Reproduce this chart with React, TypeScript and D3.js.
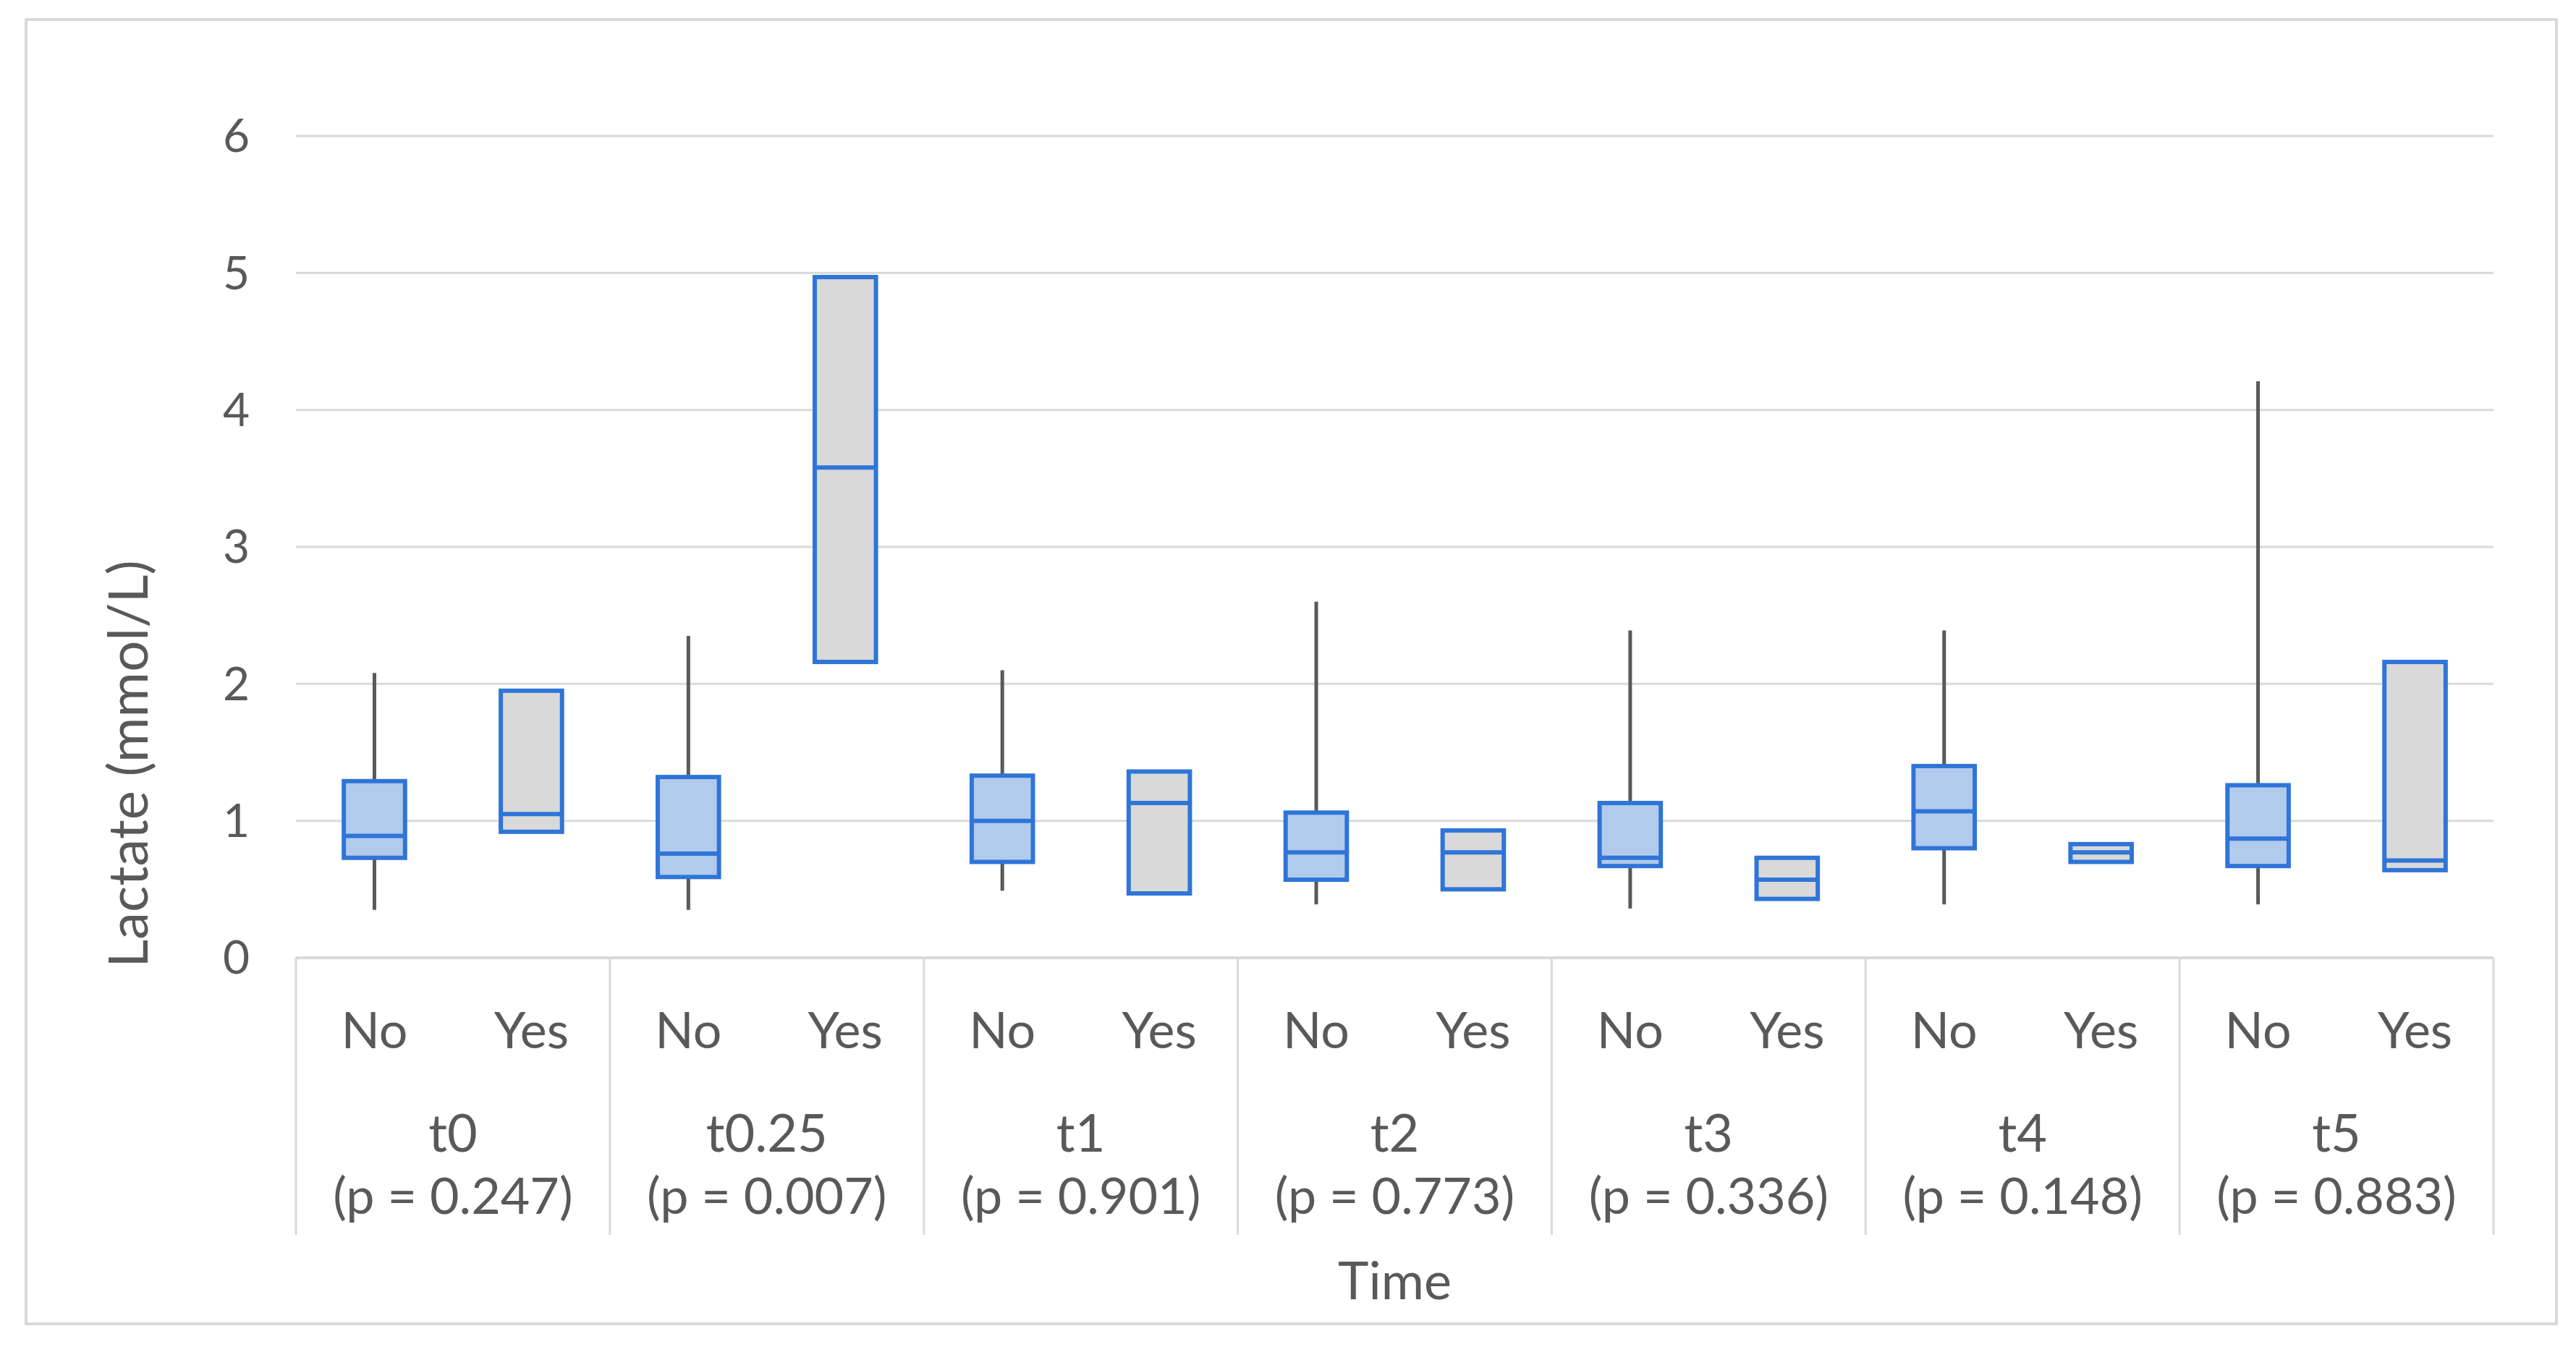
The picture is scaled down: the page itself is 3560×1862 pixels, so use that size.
import { useEffect, useRef } from 'react';
import * as d3 from 'd3';

// time points with their p-values
const timePoints = ["t0", "t0.25", "t1", "t2", "t3", "t4", "t5"];
const pValues = ["0.247", "0.007", "0.901", "0.773", "0.336", "0.148", "0.883"];
const groups = ["No", "Yes"];

// box stats, one entry per time point
const noWhiskerHigh = [2.08, 2.35, 2.10, 2.60, 2.39, 2.39, 4.21];
const noQ3 = [1.29, 1.32, 1.33, 1.06, 1.13, 1.40, 1.26];
const noMedian = [0.89, 0.76, 1.00, 0.77, 0.73, 1.07, 0.87];
const noQ1 = [0.73, 0.59, 0.70, 0.57, 0.67, 0.80, 0.67];
const noWhiskerLow = [0.35, 0.35, 0.49, 0.39, 0.36, 0.39, 0.39];

const yesQ3 = [1.95, 4.97, 1.36, 0.93, 0.73, 0.83, 2.16];
const yesMedian = [1.05, 3.58, 1.13, 0.77, 0.57, 0.77, 0.71];
const yesQ1 = [0.92, 2.16, 0.47, 0.50, 0.43, 0.70, 0.64];

const yTicks = [0, 1, 2, 3, 4, 5, 6];

interface Box {
  time: string;
  group: string;
  q1: number;
  median: number;
  q3: number;
  low?: number;
  high?: number;
}

export default function App() {
  const svgRef = useRef<SVGSVGElement>(null);

  useEffect(() => {
    if (!svgRef.current) return;
    document.body.style.margin = "0";

    const W = 3560;
    const H = 1862;
    const left = 409, right = 3446, top = 188, bottom = 1324;
    const textColor = "#595959";
    const gridColor = "#d9d9d9";
    const font = "Lato, 'Open Sans', sans-serif";

    const svg = d3.select(svgRef.current);
    svg.selectAll("*").remove();
    svg.attr("width", W).attr("height", H).attr("viewBox", `0 0 ${W} ${H}`);

    svg.append("rect")
      .attr("width", W).attr("height", H).attr("fill", "#fff");

    // outer chart border
    svg.append("rect")
      .attr("x", 36).attr("y", 27)
      .attr("width", 3497).attr("height", 1803)
      .attr("fill", "#fff")
      .attr("stroke", gridColor)
      .attr("stroke-width", 4);

    const y = d3.scaleLinear().domain([0, 6]).range([bottom, top]);
    const x = d3.scaleBand().domain(timePoints).range([left, right]).padding(0);
    const inner = d3.scaleBand()
      .domain(groups)
      .range([0, x.bandwidth()])
      .paddingInner(0.61)
      .paddingOuter(0.305);

    // gridlines
    svg.append("g").selectAll("line")
      .data(yTicks)
      .enter()
      .append("line")
      .attr("x1", left).attr("x2", right)
      .attr("y1", d => y(d)).attr("y2", d => y(d))
      .attr("stroke", gridColor)
      .attr("stroke-width", d => d === 0 ? 4 : 3);

    // y tick labels
    svg.append("g").selectAll("text")
      .data(yTicks)
      .enter()
      .append("text")
      .attr("x", left - 64)
      .attr("y", d => y(d))
      .attr("dy", "0.35em")
      .attr("text-anchor", "end")
      .style("font-family", font)
      .style("font-size", "64px")
      .style("fill", textColor)
      .text(d => d);

    // y axis title
    svg.append("text")
      .attr("transform", `translate(177, 1056) rotate(-90)`)
      .attr("dy", "0.35em")
      .attr("text-anchor", "middle")
      .style("font-family", font)
      .style("font-size", "76px")
      .style("fill", textColor)
      .text("Lactate (mmol/L)");

    // category separators below the axis
    const edges = [...timePoints.map(t => x(t)!), right];
    svg.append("g").selectAll("line")
      .data(edges)
      .enter()
      .append("line")
      .attr("x1", d => d).attr("x2", d => d)
      .attr("y1", bottom).attr("y2", 1707)
      .attr("stroke", gridColor)
      .attr("stroke-width", 3);

    // group labels
    timePoints.forEach((t, i) => {
      groups.forEach(g => {
        svg.append("text")
          .attr("x", x(t)! + inner(g)! + inner.bandwidth() / 2)
          .attr("y", 1424)
          .attr("dy", "0.35em")
          .attr("text-anchor", "middle")
          .style("font-family", font)
          .style("font-size", "70px")
          .style("fill", textColor)
          .text(g);
      });
      const cx = x(t)! + x.bandwidth() / 2;
      svg.append("text")
        .attr("x", cx).attr("y", 1567).attr("dy", "0.35em")
        .attr("text-anchor", "middle")
        .style("font-family", font).style("font-size", "72px")
        .style("fill", textColor)
        .text(t);
      svg.append("text")
        .attr("x", cx).attr("y", 1653).attr("dy", "0.35em")
        .attr("text-anchor", "middle")
        .style("font-family", font).style("font-size", "70px")
        .style("fill", textColor)
        .text(`(p = ${pValues[i]})`);
    });

    svg.append("text")
      .attr("x", (left + right) / 2).attr("y", 1771).attr("dy", "0.35em")
      .attr("text-anchor", "middle")
      .style("font-family", font).style("font-size", "72px")
      .style("fill", textColor)
      .text("Time");

    const boxes: Box[] = [];
    timePoints.forEach((t, i) => {
      boxes.push({ time: t, group: "No", q1: noQ1[i], median: noMedian[i], q3: noQ3[i], low: noWhiskerLow[i], high: noWhiskerHigh[i] });
      boxes.push({ time: t, group: "Yes", q1: yesQ1[i], median: yesMedian[i], q3: yesQ3[i] });
    });

    const stroke = "#2f75d8";
    const g = svg.append("g").selectAll("g")
      .data(boxes)
      .enter()
      .append("g")
      .attr("transform", d => `translate(${x(d.time)! + inner(d.group)!},0)`);

    // whiskers (only the "No" boxes have them)
    g.filter(d => d.high !== undefined)
      .append("line")
      .attr("x1", inner.bandwidth() / 2).attr("x2", inner.bandwidth() / 2)
      .attr("y1", d => y(d.high!)).attr("y2", d => y(d.q3))
      .attr("stroke", textColor).attr("stroke-width", 5);
    g.filter(d => d.low !== undefined)
      .append("line")
      .attr("x1", inner.bandwidth() / 2).attr("x2", inner.bandwidth() / 2)
      .attr("y1", d => y(d.q1)).attr("y2", d => y(d.low!))
      .attr("stroke", textColor).attr("stroke-width", 5);

    g.append("rect")
      .attr("x", 0)
      .attr("y", d => y(d.q3))
      .attr("width", inner.bandwidth())
      .attr("height", d => y(d.q1) - y(d.q3))
      .attr("fill", d => d.group === "No" ? "#b2cbec" : "#d9d9d9")
      .attr("stroke", stroke)
      .attr("stroke-width", 6);

    g.append("line")
      .attr("x1", 0).attr("x2", inner.bandwidth())
      .attr("y1", d => y(d.median)).attr("y2", d => y(d.median))
      .attr("stroke", stroke)
      .attr("stroke-width", 6);
  }, []);

  return <svg ref={svgRef} style={{ display: "block" }} />;
}
